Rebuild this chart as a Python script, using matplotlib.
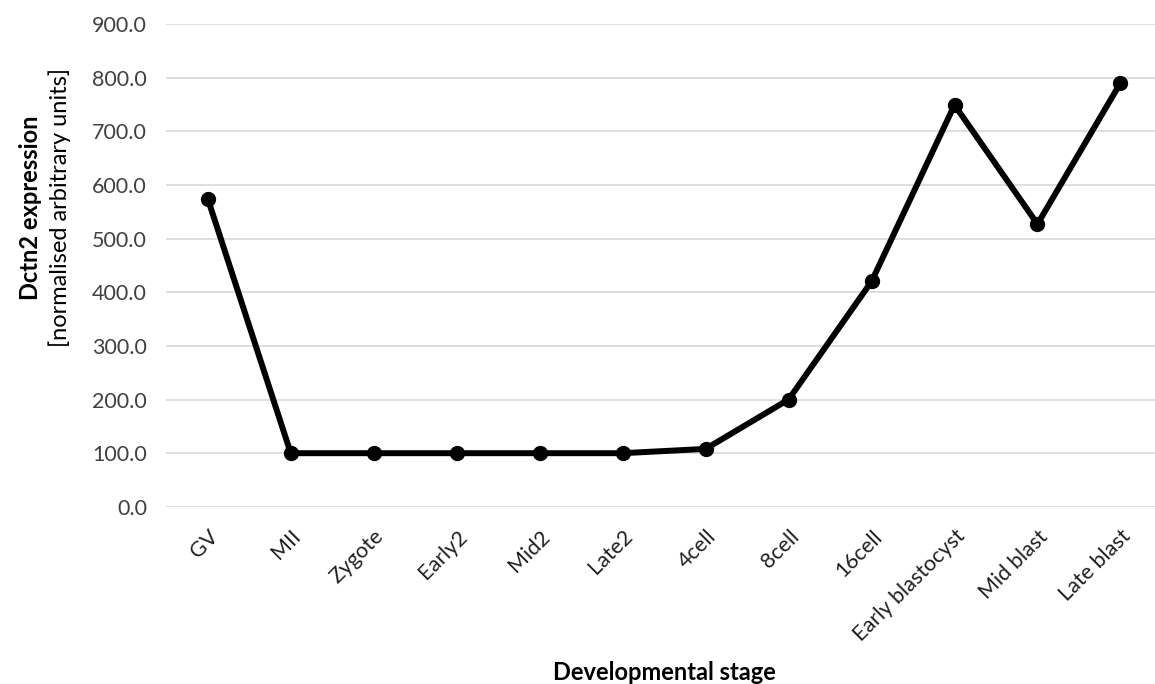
#!/usr/bin/env python3

import matplotlib
matplotlib.use('Agg')
from matplotlib import pyplot as plt

stages = ['GV', 'MII', 'Zygote', 'Early2', 'Mid2', 'Late2', '4cell', '8cell',
          '16cell', 'Early blastocyst', 'Mid blast', 'Late blast']
expression = [574, 100, 100, 100, 100, 100, 108, 200, 420, 749, 527, 790]
yticks = [0, 100, 200, 300, 400, 500, 600, 700, 800, 900]


def main():
    plt.rcParams['font.family'] = ['Lato', 'DejaVu Sans']
    fig = plt.figure(figsize=(11.55, 6.84), dpi=100)
    ax = fig.add_axes([0.144, 0.259, 0.862, 0.706])

    x = range(len(stages))
    ax.plot(x, expression, color='black', lw=4.3, marker='o', ms=10,
            solid_joinstyle='round')

    ax.set_xlim(-0.5, len(stages) - 0.5)
    ax.set_ylim(0, 900)
    ax.set_yticks(yticks)
    ax.set_yticklabels(['%.1f' % v for v in yticks], fontsize=15.5, color='#404040')
    ax.set_xticks(list(x))
    ax.set_xticklabels(stages, rotation=45, ha='right', rotation_mode='anchor',
                       fontsize=15.5, color='#202020')
    ax.tick_params(length=0, pad=14)
    ax.tick_params(axis='x', pad=14)
    ax.yaxis.grid(True, color='#d9d9d9', lw=1.2)
    ax.set_axisbelow(True)
    for s in ax.spines.values():
        s.set_visible(False)

    fig.text(0.026, 0.696, 'Dctn2 expression', rotation=90, ha='center',
             va='center', fontsize=17, fontweight='bold')
    fig.text(0.052, 0.696, '[normalised arbitrary units]', rotation=90,
             ha='center', va='center', fontsize=17)
    fig.text(0.575, 0.0, 'Developmental stage', ha='center', va='bottom',
             fontsize=17, fontweight='bold')

    fig.savefig('out.png', dpi=100)


if __name__ == '__main__':
    main()
